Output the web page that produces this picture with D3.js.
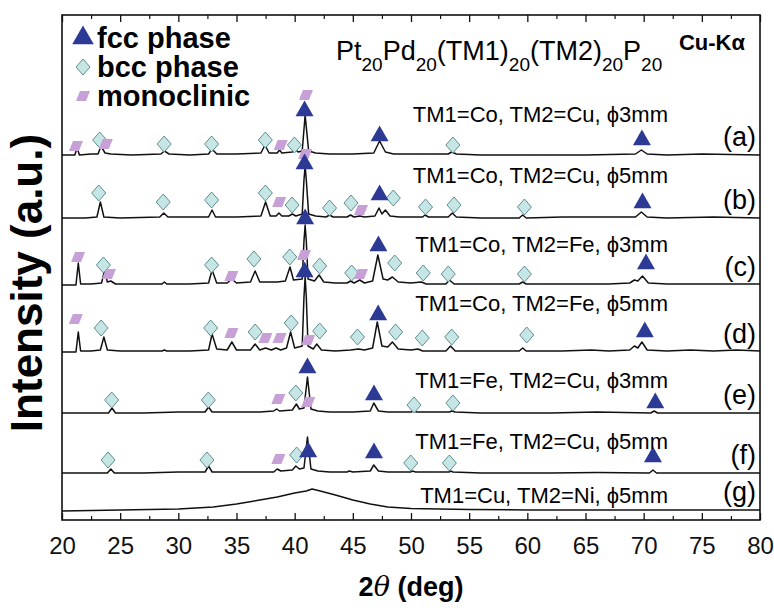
<!DOCTYPE html>
<meta charset="utf-8">
<script src="https://d3js.org/d3.v7.min.js"></script>
<style>
  body { margin: 0; background: #fff; }
  text { font-family: "Liberation Sans", Arial, sans-serif; }
</style>
<div id="chart"></div>
<script>
// ---- data ----
// 2theta (deg), intensity above the trace's own baseline (a.u.)
const traceA = [[20,0],[21.1,0],[21.3,7],[21.5,0],[22.5,1],[23.1,1],[23.35,9],[23.7,2],[24.2,1],[26,0],[28.5,1],[28.8,4],[29.2,1],[31,0],[32.6,1],[32.9,6],[33.3,1],[35,1],[37.1,2],[37.45,10],[37.8,2],[38.5,2],[38.7,5],[38.9,2],[39.8,3],[40.0,6],[40.3,3],[40.65,4],[40.9,40],[41.2,4],[41.8,2],[43,1],[45,1],[46.8,2],[47.3,14],[47.8,3],[48.5,1],[50,1],[53.2,1],[53.5,3],[53.9,1],[56,0],[60,0],[65,0],[69.3,1],[69.8,5],[70.3,1],[72,0],[75,1],[80,0]];
const traceB = [[20,0],[22,0],[23.0,1],[23.3,16],[23.6,1],[25,0],[28.4,1],[28.75,5],[29.1,1],[31,1],[32.6,1],[32.9,8],[33.2,1],[35,1],[37.1,2],[37.5,16],[37.9,2],[38.4,2],[38.65,5],[38.9,2],[39.5,2],[39.8,4],[40.1,2],[40.65,4],[40.8,38],[40.9,52],[41.0,38],[41.2,4],[41.8,2],[42.7,1],[43.0,3],[43.3,1],[44.5,1],[44.8,3],[45.1,1],[45.6,2],[46,1],[46.9,2],[47.25,10],[47.5,4],[47.8,8],[48.2,2],[49,1],[51,1],[51.2,3],[51.5,1],[53.2,1],[53.55,5],[53.9,1],[56,0],[59.3,0],[59.6,3],[59.9,0],[63,1],[67,1],[69.3,1],[69.8,6],[70.3,1],[72,0],[76,1],[80,0]];
const traceC = [[20,0],[21.2,0],[21.4,22],[21.6,1],[22.5,1],[23.4,2],[23.65,14],[23.9,3],[24.2,4],[24.6,1],[26,1],[28.6,1],[28.8,3],[29,1],[31,1],[32.6,2],[32.9,15],[33.3,2],[34.2,2],[34.6,6],[35,2],[36.2,3],[36.6,14],[37,3],[37.8,3],[38.5,3],[39.2,4],[39.6,18],[39.9,5],[40.65,6],[40.8,44],[40.9,60],[41.0,44],[41.15,6],[41.7,4],[42.1,10],[42.5,3],[43.5,2],[44.5,2],[44.8,4],[45.1,2],[45.6,5],[46,2],[46.7,4],[47.15,30],[47.6,6],[48.0,5],[48.4,8],[48.9,3],[50,2],[50.9,3],[51.3,1],[53,1],[53.3,5],[53.7,1],[56,1],[59.3,1],[59.6,3],[59.9,1],[63,1],[67,1],[68.8,2],[69.2,5],[69.5,4],[69.9,9],[70.4,2],[72,1],[76,1],[80,1]];
const traceD = [[20,0],[21.2,0],[21.4,20],[21.6,1],[22.5,1],[23.3,2],[23.6,15],[23.9,2],[25,1],[26.5,1],[28.6,1],[28.8,2],[29,1],[31,1],[32.6,2],[32.9,18],[33.3,3],[34.2,2],[34.6,10],[35,2],[36.2,2],[36.6,8],[37,2],[37.5,4],[38,2],[38.4,4],[38.8,2],[39.3,4],[39.65,20],[40,4],[40.65,6],[40.8,55],[40.9,75],[41.0,55],[41.15,6],[41.6,3],[41.9,8],[42.3,2],[43.5,1],[44.8,2],[45.5,3],[46,2],[46.7,4],[47.1,30],[47.5,6],[48.0,5],[48.4,10],[48.9,3],[50,2],[50.6,3],[51,1],[53,1],[53.4,6],[53.8,1],[56,1],[59.3,1],[59.6,4],[59.9,1],[63,1],[65.5,2],[67,1],[68.8,2],[69.2,6],[69.5,4],[69.85,10],[70.3,2],[72,1],[74,2],[76,1],[78,2],[80,1]];
const traceE = [[20,0],[24,0],[24.3,5],[24.6,0],[27,0],[30,1],[32.3,1],[32.6,6],[32.9,1],[35,1],[37,1],[38.2,2],[38.45,4],[38.7,2],[39.8,3],[40.15,9],[40.4,4],[40.8,5],[41.1,36],[41.4,4],[42,2],[43,1],[45,1],[46.5,2],[46.8,10],[47.2,2],[48,1],[50,1],[50.2,2],[50.5,1],[53.3,1],[53.5,2],[53.8,1],[56,0],[62,0],[66,1],[70.6,0],[70.9,2],[71.2,0],[75,0],[80,0]];
const traceF = [[20,0],[23.9,0],[24.2,4],[24.5,0],[27,0],[30,1],[32.3,1],[32.6,7],[32.9,1],[35,1],[37,1],[38.2,1],[38.5,4],[38.8,2],[39.8,3],[40.1,7],[40.4,4],[40.8,5],[41.1,36],[41.4,4],[42,2],[43,1],[44.5,1],[44.7,2],[45,1],[46.5,2],[46.8,8],[47.2,2],[48,1],[50,1],[50.1,2],[50.4,1],[53.3,1],[53.4,2],[53.6,1],[56,0],[62,0],[66,0.5],[70.5,0],[70.8,3],[71.1,0],[75,0],[80,0]];
const traceG = [[20,-1],[25,0],[30,1],[33,3],[35,6],[37,10],[38.5,13],[40,17],[41,19],[41.5,21],[42.2,19],[43.5,15],[45,10],[46.5,6],[48,3],[50,1.5],[55,0.5],[60,0],[70,0],[80,0]];

// phase markers: [2theta, height above baseline]
const fccA = [[40.85,44],[47.3,19],[69.85,15]];
const bccA = [[23.24,15],[28.78,11],[32.86,11],[37.48,15],[39.98,10],[53.6,10]];
const monoA = [[21.2,9],[23.76,11],[38.8,10],[40.97,60]];
const fccB = [[40.85,54],[47.3,23],[69.9,15]];
const bccB = [[23.16,25],[28.7,16],[32.86,18],[37.48,25],[39.78,13],[43.0,10],[44.84,15],[48.48,20],[51.25,11],[53.7,13],[59.75,11]];
const monoB = [[40.9,64],[38.67,16],[45.7,8]];
const fccC = [[40.9,66],[47.2,39],[70.2,21]];
const bccC = [[23.56,20],[32.86,20],[36.5,26],[39.58,28],[42.15,19],[44.9,12],[48.6,22],[51.05,12],[53.2,11],[59.75,11]];
const monoC = [[21.38,28],[24.03,11],[34.56,9],[40.8,30],[45.7,11]];
const fccD = [[40.85,80],[47.18,37],[70.1,20]];
const bccD = [[23.36,24],[32.78,24],[36.6,20],[39.7,29],[42.15,21],[45.4,15],[48.68,20],[50.97,14],[53.5,15],[59.95,17]];
const monoD = [[21.19,33],[34.56,19],[37.48,14],[38.7,14],[41.16,12]];
const fccE = [[41.1,45],[46.82,18],[71.0,10]];
const bccE = [[24.27,13],[32.58,13],[40.1,20],[50.26,8],[53.6,10]];
const monoE = [[38.6,14],[41.16,11]];
const fccF = [[41.16,21],[46.82,20],[70.8,16]];
const bccF = [[23.96,13],[32.46,13],[40.17,18],[49.98,10],[53.3,10]];
const monoF = [[38.6,14]];

const sampleLetters = ["(a)","(b)","(c)","(d)","(e)","(f)","(g)"];
const sampleNames = [
  "TM1=Co, TM2=Cu, \u03D53mm",
  "TM1=Co, TM2=Cu, \u03D55mm",
  "TM1=Co, TM2=Fe, \u03D53mm",
  "TM1=Co, TM2=Fe, \u03D55mm",
  "TM1=Fe, TM2=Cu,  \u03D53mm",
  "TM1=Fe, TM2=Cu, \u03D55mm",
  "TM1=Cu, TM2=Ni, \u03D55mm"
];
// stacking offset of each trace (a.u.)
const offsets = [365, 302, 235, 168, 107, 47, 10];
const xTicks = [20,25,30,35,40,45,50,55,60,65,70,75,80];
const xMinor = [22.5,27.5,32.5,37.5,42.5,47.5,52.5,57.5,62.5,67.5,72.5,77.5];
const titleParts = [["Pt","20"],["Pd","20"],["(TM1)","20"],["(TM2)","20"],["P","20"]];
const legendItems = ["fcc phase", "bcc phase", "monoclinic"];

const traces = [traceA, traceB, traceC, traceD, traceE, traceF, traceG];
const fcc = [fccA, fccB, fccC, fccD, fccE, fccF, []];
const bcc = [bccA, bccB, bccC, bccD, bccE, bccF, []];
const mono = [monoA, monoB, monoC, monoD, monoE, monoF, []];
// where the name text sits above each trace (a.u.)
const nameLift = [33, 35, 33, 41, 25, 24, 7];

// ---- layout ----
const W = 774, H = 612;
const margin = {top: 15, right: 14, bottom: 92, left: 62};

const svg = d3.select("#chart").append("svg")
  .attr("width", W).attr("height", H);

const x = d3.scaleLinear().domain([20, 80]).range([margin.left, W - margin.right]);
const y = d3.scaleLinear().domain([0, 505]).range([H - margin.bottom, margin.top]);

const triColor = "#2c3a96", diaFill = "#c6e6e6", diaStroke = "#5e8d90", monoColor = "#c6a0d6";

// traces
const line = d3.line();
traces.forEach(function(t, i) {
  svg.append("path")
    .attr("fill", "none")
    .attr("stroke", "#111")
    .attr("stroke-width", 1.5)
    .attr("stroke-linejoin", "round")
    .attr("d", line.x(d => x(d[0])).y(d => y(d[1] + offsets[i]))(t));
});

// marker shapes
const diamondPath = "M0,-8L7,0L0,8L-7,0Z";
const monoPath = "M-3,-5L7,-5L3,5L-7,5Z";
const triSym = d3.symbol().type(d3.symbolTriangle).size(140)();

function drawMarkers(list, i, path, fill, stroke) {
  svg.append("g").selectAll("path")
    .data(list).join("path")
    .attr("transform", d => `translate(${x(d[0])},${y(d[1] + offsets[i])})`)
    .attr("d", path)
    .attr("fill", fill)
    .attr("stroke", stroke)
    .attr("stroke-width", 1);
}
traces.forEach(function(t, i) {
  drawMarkers(bcc[i], i, diamondPath, diaFill, diaStroke);
  drawMarkers(mono[i], i, monoPath, monoColor, "none");
  drawMarkers(fcc[i], i, triSym, triColor, "none");
});

// sample names and letters
svg.append("g").selectAll("text")
  .data(sampleNames).join("text")
  .attr("x", 668)
  .attr("y", (d, i) => y(offsets[i] + nameLift[i]))
  .attr("text-anchor", "end")
  .attr("font-size", 22)
  .text(d => d);

svg.append("g").selectAll("text")
  .data(sampleLetters).join("text")
  .attr("x", 756)
  .attr("y", (d, i) => y(offsets[i] + 9))
  .attr("text-anchor", "end")
  .attr("font-size", 27)
  .text(d => d);

// frame
svg.append("rect")
  .attr("x", margin.left).attr("y", margin.top)
  .attr("width", W - margin.left - margin.right)
  .attr("height", H - margin.top - margin.bottom)
  .attr("fill", "none").attr("stroke", "#111").attr("stroke-width", 1.6);

// axes: ticks point inward
const bottomY = H - margin.bottom;
const xAxis = svg.append("g")
  .attr("transform", `translate(0,${bottomY})`)
  .call(d3.axisBottom(x).tickValues(xTicks).tickSize(-7).tickFormat(d3.format("d")));
xAxis.select(".domain").remove();
xAxis.selectAll("line").attr("stroke", "#111").attr("stroke-width", 1.3);
xAxis.selectAll("text")
  .attr("y", 34).attr("dy", null)
  .attr("font-size", 24).attr("fill", "#111")
  .attr("font-family", "'Liberation Sans', Arial, sans-serif");

const xMinorAxis = svg.append("g")
  .attr("transform", `translate(0,${bottomY})`)
  .call(d3.axisBottom(x).tickValues(xMinor).tickSize(-4).tickFormat(""));
xMinorAxis.select(".domain").remove();
xMinorAxis.selectAll("line").attr("stroke", "#111").attr("stroke-width", 1.2);

const topAxis = svg.append("g")
  .attr("transform", `translate(0,${margin.top})`)
  .call(d3.axisTop(x).tickValues(xTicks).tickSize(-7).tickFormat(""));
topAxis.select(".domain").remove();
topAxis.selectAll("line").attr("stroke", "#111").attr("stroke-width", 1.3);
const topMinor = svg.append("g")
  .attr("transform", `translate(0,${margin.top})`)
  .call(d3.axisTop(x).tickValues(xMinor).tickSize(-4).tickFormat(""));
topMinor.select(".domain").remove();
topMinor.selectAll("line").attr("stroke", "#111").attr("stroke-width", 1.2);

// axis titles
const xt = svg.append("text")
  .attr("x", (margin.left + W - margin.right) / 2)
  .attr("y", 596)
  .attr("text-anchor", "middle")
  .attr("font-size", 27)
  .attr("font-weight", "bold");
xt.append("tspan").text("2");
xt.append("tspan").attr("font-style", "italic").attr("font-weight", "normal").attr("font-family", "'DejaVu Serif', serif").text("\u03B8");
xt.append("tspan").text(" (deg)");

svg.append("text")
  .attr("transform", "translate(42,283) rotate(-90)")
  .attr("text-anchor", "middle")
  .attr("font-size", 44)
  .attr("font-weight", "bold")
  .text("Intensity (a.u.)");

// composition title with subscripts
const title = svg.append("text")
  .attr("x", 336).attr("y", 60)
  .attr("font-size", 27);
titleParts.forEach(function(p, k) {
  title.append("tspan").attr("dy", k === 0 ? 0 : -11).text(p[0]);
  title.append("tspan").attr("dy", 11).attr("font-size", 19).text(p[1]);
});

svg.append("text")
  .attr("x", 745).attr("y", 50)
  .attr("text-anchor", "end")
  .attr("font-size", 22)
  .attr("font-weight", "bold")
  .text("Cu-K\u03B1");

// legend
const legendPaths = [[triSym, triColor, "none"], [diamondPath, diaFill, diaStroke], [monoPath, monoColor, "none"]];
legendItems.forEach(function(name, i) {
  const ly = 38 + i * 29;
  svg.append("path")
    .attr("transform", `translate(83,${ly}) scale(${i === 0 ? 1.2 : 1})`)
    .attr("d", legendPaths[i][0])
    .attr("fill", legendPaths[i][1])
    .attr("stroke", legendPaths[i][2]);
  svg.append("text")
    .attr("x", 97).attr("y", ly + 10)
    .attr("font-size", 29)
    .attr("font-weight", "bold")
    .text(name);
});
</script>
